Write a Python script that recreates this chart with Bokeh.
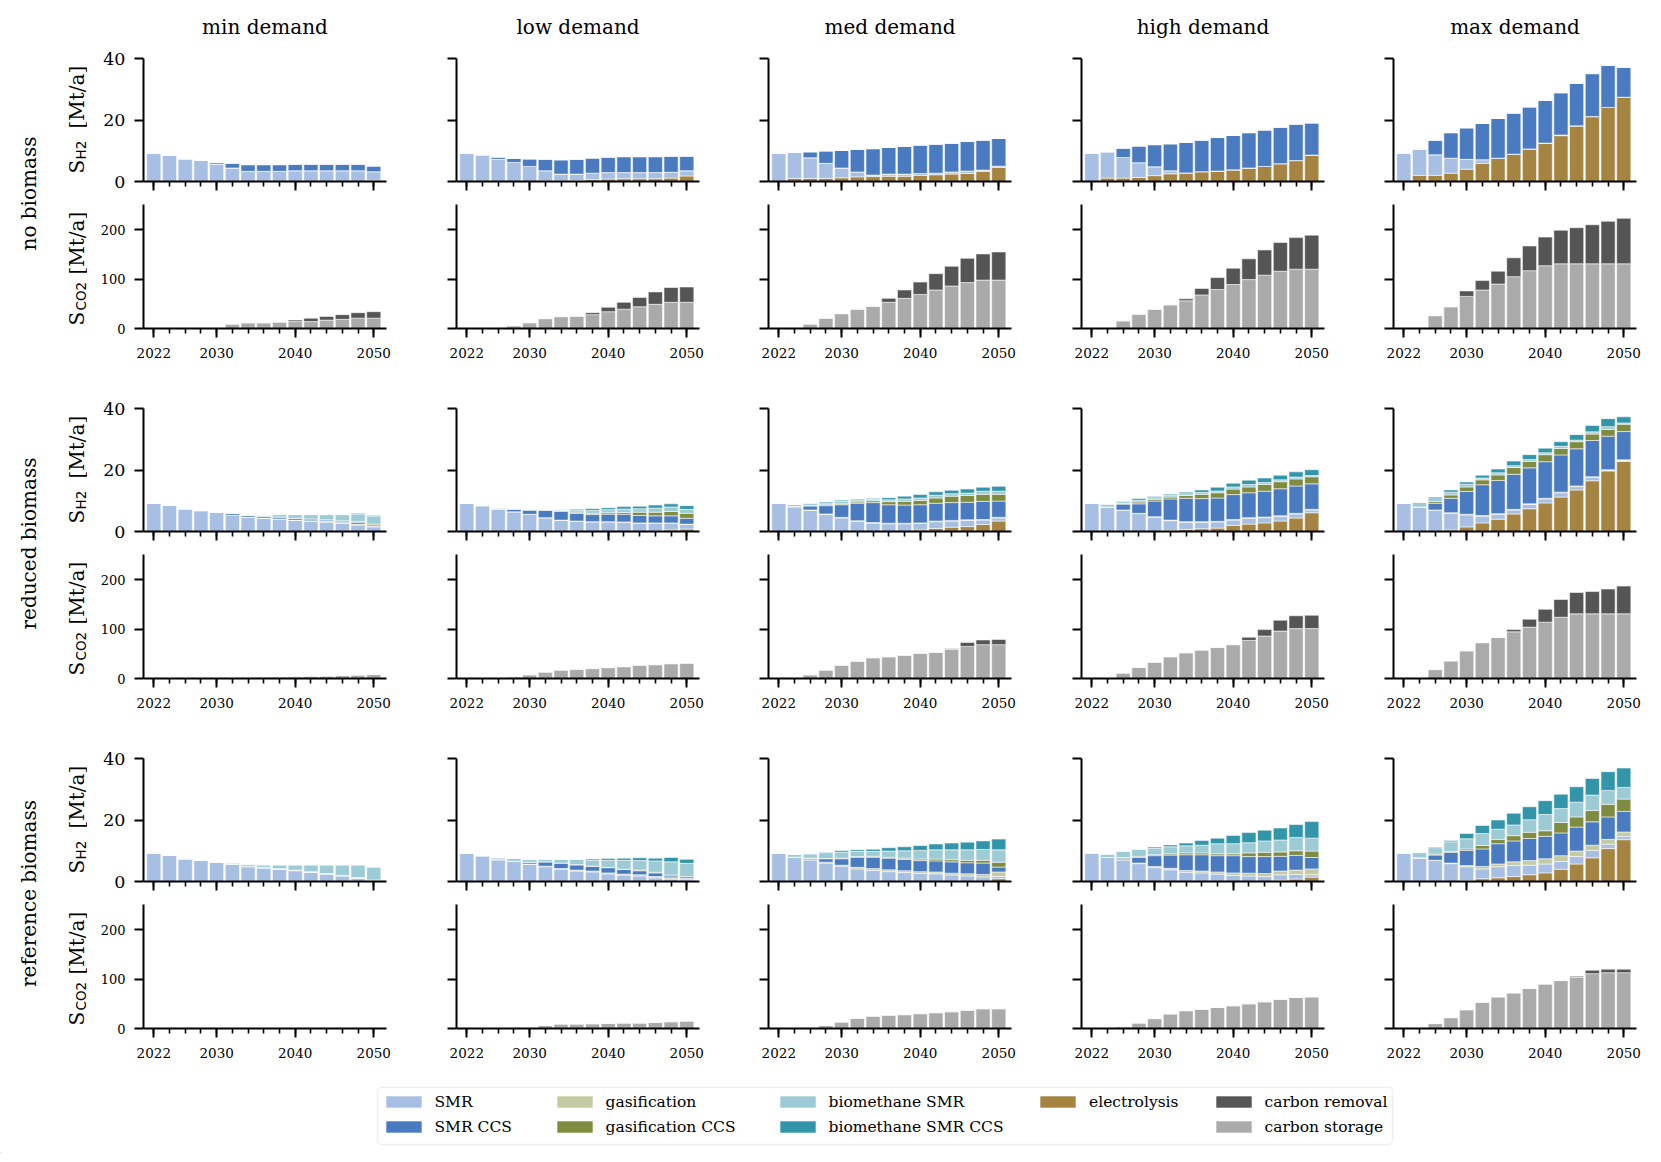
import numpy as np
from bokeh.plotting import figure
from bokeh.models import (ColumnDataSource, Range1d, FixedTicker, Label, Legend,
                          LegendItem, BoxAnnotation)
from bokeh.layouts import row, column
from bokeh.embed import file_html
from bokeh.resources import INLINE

# ---------------------------------------------------------------- data
YEARS = [2022, 2024, 2026, 2028, 2030, 2032, 2034, 2036, 2038, 2040, 2042, 2044, 2046, 2048, 2050]
BIOMASS = ["no", "reduced", "reference"]
COL_TITLES = ["min demand", "low demand", "med demand", "high demand", "max demand"]
ROW_TITLES = ["no biomass", "reduced biomass", "reference biomass"]

H2_KEYS = ["E", "S", "G", "SC", "GC", "B", "BC"]
CO2_KEYS = ["CS", "CR"]
NAMES = {"S": "SMR", "SC": "SMR CCS", "G": "gasification", "GC": "gasification CCS",
         "B": "biomethane SMR", "BC": "biomethane SMR CCS", "E": "electrolysis",
         "CR": "carbon removal", "CS": "carbon storage"}
COLORS = {"S": "#a7bfe2", "SC": "#4a7bc0", "G": "#c4caa3", "GC": "#7f8c40",
          "B": "#9ccbd6", "BC": "#3395a9", "E": "#a58442", "CR": "#555555", "CS": "#aaaaaa"}

# --- no biomass
no_min_h2 = dict(
    E=[0, 0, 0, 0, 0, 0, 0, 0, 0, 0, 0, 0, 0, 0, 0.4],
    S=[9.2, 8.5, 7.4, 6.9, 5.7, 4.4, 3.3, 3.3, 3.3, 3.5, 3.5, 3.5, 3.5, 3.5, 2.8],
    SC=[0, 0, 0, 0, 0.6, 1.6, 2.2, 2.2, 2.2, 2.2, 2.2, 2.2, 2.2, 2.2, 1.9])
no_min_co2 = dict(
    CS=[0, 0, 0, 0, 1, 9, 11.5, 11.5, 13, 14, 14, 17, 18.5, 21, 21],
    CR=[0, 0, 0, 0, 0, 0, 0, 0, 0, 3, 7, 7.5, 9.5, 11, 13])
no_low_h2 = dict(
    E=[0, 0, 0, 0, 0, 0.2, 0.2, 0.3, 0.6, 0.8, 0.9, 0.9, 0.9, 1.1, 1.8],
    S=[9.2, 8.7, 7.2, 6.2, 4.9, 3.3, 2.2, 2.1, 2.1, 2.1, 2.0, 2.0, 2.0, 1.9, 1.7],
    SC=[0, 0, 0.8, 1.4, 2.5, 3.8, 4.7, 4.9, 5.0, 5.1, 5.2, 5.2, 5.2, 5.3, 4.8])
no_low_co2 = dict(
    CS=[0, 0, 2, 5.5, 11.7, 20, 24, 25, 28, 34, 39, 44, 49, 53, 53],
    CR=[0, 0, 0, 0, 0, 0, 0, 0, 4, 9, 14, 19, 25, 30, 31])
no_med_h2 = dict(
    E=[0, 1.0, 1.0, 1.0, 1.2, 1.5, 1.6, 1.7, 1.7, 2.0, 2.2, 2.4, 2.6, 3.3, 4.6],
    S=[9.2, 8.6, 6.7, 4.9, 3.2, 1.6, 0.5, 0.7, 0.7, 0.6, 0.5, 0.7, 0.8, 0.4, 0.4],
    SC=[0, 0, 2.0, 4.1, 5.7, 7.4, 8.6, 8.7, 9.1, 9.3, 9.5, 9.4, 9.6, 9.8, 9.1])
no_med_co2 = dict(
    CS=[0, 0, 9, 21, 30, 39, 45, 53, 61, 69, 78, 86, 93, 98, 98],
    CR=[0, 0, 0, 0, 0, 0, 0, 8, 17, 25, 33, 40, 49, 53, 57])
no_high_h2 = dict(
    E=[0, 1.1, 1.1, 1.3, 1.9, 2.5, 2.8, 3.2, 3.4, 3.8, 4.4, 4.9, 5.8, 6.8, 8.6],
    S=[9.3, 8.6, 6.7, 4.8, 2.9, 1.0, 0, 0, 0, 0, 0, 0, 0, 0, 0],
    SC=[0, 0, 3.1, 5.5, 7.2, 8.8, 10.0, 10.3, 10.9, 11.2, 11.5, 11.9, 11.9, 11.9, 10.5])
no_high_co2 = dict(
    CS=[0, 0, 15.6, 29, 39, 48, 56, 68, 79, 89, 99, 108, 116, 120, 120],
    CR=[0, 0, 0, 0, 0, 0, 4, 13, 24, 33, 42, 51, 58, 64, 69])
no_max_h2 = dict(
    E=[0, 2.0, 2.0, 2.7, 4.0, 5.9, 7.6, 8.9, 10.6, 12.5, 14.9, 18.1, 21.1, 24.1, 27.4],
    S=[9.3, 8.6, 6.7, 4.9, 3.2, 1.2, 0, 0, 0, 0, 0.2, 0, 0, 0, 0],
    SC=[0, 0, 4.8, 8.3, 10.3, 11.8, 12.9, 13.4, 13.7, 13.9, 13.8, 13.9, 14.0, 13.7, 9.8])
no_max_co2 = dict(
    CS=[0, 0, 26, 44, 65, 78, 90, 105, 117, 127, 131, 131, 131, 131, 131],
    CR=[0, 0, 0, 0, 11, 19, 26, 38, 50, 58, 68, 73, 79, 86, 92])

# --- reduced biomass
red_min_h2 = dict(
    S=[9.1, 8.5, 7.4, 6.8, 6.2, 5.3, 4.6, 4.3, 4.0, 3.6, 3.3, 3.0, 2.6, 2.1, 1.5],
    G=[0, 0, 0, 0, 0, 0, 0.1, 0.1, 0.1, 0.1, 0.2, 0.3, 0.3, 0.3, 0.2],
    SC=[0, 0, 0, 0, 0, 0.6, 0.5, 0.6, 0.6, 0.6, 0.6, 0.5, 0.5, 0.6, 0.4],
    GC=[0, 0, 0, 0, 0, 0, 0, 0, 0, 0, 0, 0, 0.1, 0.3, 0.3],
    B=[0, 0, 0, 0, 0, 0, 0.1, 0.3, 0.8, 1.2, 1.4, 1.7, 2.0, 2.4, 2.5],
    BC=[0, 0, 0, 0, 0, 0, 0, 0, 0, 0, 0, 0, 0, 0.2, 0.3])
red_min_co2 = dict(
    CS=[0, 0, 0, 0, 0, 0.5, 2.5, 3, 3, 3.5, 4.5, 5, 6, 7, 8])
red_low_h2 = dict(
    E=[0, 0, 0, 0, 0, 0, 0, 0, 0, 0, 0, 0, 0.2, 0.5, 0.8],
    S=[9.2, 8.4, 7.3, 6.4, 5.6, 4.4, 3.6, 3.3, 3.1, 3.1, 3.0, 2.7, 2.5, 2.2, 1.5],
    G=[0, 0, 0, 0, 0, 0.1, 0.1, 0.1, 0.1, 0.1, 0.1, 0.1, 0.1, 0.1, 0.1],
    SC=[0, 0, 0.3, 0.9, 1.4, 2.4, 2.8, 2.5, 2.3, 2.4, 2.5, 2.4, 2.3, 2.3, 1.9],
    GC=[0, 0, 0, 0, 0, 0.1, 0.3, 0.4, 0.4, 0.5, 0.6, 1.1, 1.2, 1.4, 1.6],
    B=[0, 0.1, 0.1, 0.1, 0.2, 0.2, 0.2, 0.5, 0.9, 1.0, 1.1, 1.1, 1.3, 1.5, 1.3],
    BC=[0, 0, 0, 0, 0, 0, 0.1, 0.4, 0.6, 0.6, 0.8, 0.8, 1.0, 1.0, 1.2])
red_low_co2 = dict(
    CS=[0, 0, 0.3, 3.4, 7.5, 13, 17, 18.5, 20, 22, 24, 27, 28, 30, 31])
red_med_h2 = dict(
    E=[0, 0, 0, 0, 0, 0, 0, 0, 0, 0.5, 1.0, 1.4, 1.6, 2.3, 3.4],
    S=[9.2, 8.0, 6.9, 5.5, 4.4, 3.3, 2.7, 2.5, 2.5, 2.1, 2.2, 2.0, 2.0, 1.4, 1.0],
    G=[0, 0.1, 0.1, 0.2, 0.2, 0.2, 0.2, 0.2, 0.2, 0.2, 0.2, 0.2, 0.2, 0.2, 0.2],
    SC=[0, 0, 1.3, 2.7, 4.1, 5.7, 6.5, 6.0, 5.9, 5.9, 5.8, 5.8, 5.7, 5.9, 5.3],
    GC=[0, 0, 0.2, 0.3, 0.3, 0.4, 0.6, 1.0, 1.2, 1.4, 1.7, 2.1, 2.2, 2.3, 2.2],
    B=[0, 0.7, 0.6, 0.6, 0.8, 0.6, 0.4, 0.6, 0.8, 0.8, 0.9, 0.8, 0.8, 1.0, 1.0],
    BC=[0, 0, 0.1, 0.3, 0.4, 0.3, 0.3, 0.7, 0.9, 1.1, 1.1, 1.1, 1.3, 1.3, 1.6])
red_med_co2 = dict(
    CS=[0, 0, 7.5, 17, 27, 35, 42, 44, 47, 51, 53, 59, 65, 68.5, 68.5],
    CR=[0, 0, 0, 0, 0, 0, 0, 0, 0, 0, 0, 1, 8, 9.5, 10.5])
red_high_h2 = dict(
    E=[0, 0, 0, 0, 0, 0.4, 0.7, 0.9, 1.1, 2.0, 2.4, 2.8, 3.4, 4.4, 6.1],
    S=[9.2, 8.0, 7.0, 5.8, 4.6, 3.1, 2.3, 2.1, 2.0, 1.7, 1.9, 1.7, 1.5, 1.3, 0.9],
    G=[0, 0, 0, 0.1, 0.2, 0.2, 0.2, 0.2, 0.2, 0.2, 0.2, 0.2, 0.2, 0.2, 0.2],
    SC=[0, 0, 1.9, 3.1, 5.1, 6.9, 7.6, 7.5, 7.6, 8.1, 8.1, 8.4, 8.8, 8.9, 8.3],
    GC=[0, 0, 0.2, 0.6, 0.6, 0.6, 0.9, 1.4, 1.7, 1.8, 1.9, 2.2, 2.3, 2.3, 2.3],
    B=[0, 0.9, 0.6, 0.6, 0.5, 0.5, 0.6, 0.6, 0.6, 0.7, 0.8, 0.6, 0.6, 0.6, 0.4],
    BC=[0, 0, 0.1, 0.5, 0.4, 0.4, 0.5, 0.8, 1.2, 1.2, 1.4, 1.5, 1.5, 1.7, 1.9])
red_high_co2 = dict(
    CS=[0, 0, 11, 22.6, 33, 44, 52, 57.5, 63, 68.5, 77, 86, 96, 101, 101],
    CR=[0, 0, 0, 0, 0, 0, 0, 0, 0, 0, 6.5, 13, 22, 26, 27])
red_max_h2 = dict(
    E=[0, 0, 0, 0.5, 1.5, 2.8, 4.0, 5.7, 7.4, 9.3, 11.2, 13.5, 16.5, 19.7, 22.8],
    S=[9.2, 8.0, 7.0, 5.4, 3.9, 2.2, 1.6, 1.3, 1.4, 1.3, 1.4, 1.1, 1.1, 0.2, 0.3],
    G=[0, 0, 0, 0.2, 0.2, 0.2, 0.2, 0.2, 0.2, 0.2, 0.2, 0.2, 0.2, 0.2, 0.2],
    SC=[0, 0, 2.2, 4.7, 7.4, 10.0, 10.8, 11.4, 11.7, 11.9, 12.1, 12.1, 11.8, 10.9, 9.2],
    GC=[0, 0, 0.6, 1.1, 1.5, 1.6, 1.8, 2.2, 2.1, 2.3, 2.1, 2.3, 2.1, 2.2, 2.4],
    B=[0, 1.5, 1.6, 0.9, 0.9, 0.6, 0.7, 0.6, 0.6, 0.6, 0.7, 0.5, 0.7, 0.9, 0.4],
    BC=[0, 0, 0, 0.7, 0.7, 0.9, 1.2, 1.5, 1.6, 1.5, 1.5, 1.8, 2.1, 2.6, 2.0])
red_max_co2 = dict(
    CS=[0, 0, 18, 35.6, 56, 72.6, 83, 94.5, 104, 114, 124, 131, 131, 131, 131],
    CR=[0, 0, 0, 0, 0, 0, 0, 4.5, 16, 26, 36, 43, 45, 50, 56])

# --- reference biomass
ref_min_h2 = dict(
    S=[9.3, 8.5, 7.4, 6.9, 6.3, 5.6, 4.8, 4.4, 4.0, 3.5, 3.0, 2.4, 1.8, 1.0, 0.2],
    G=[0, 0, 0, 0, 0, 0, 0.1, 0.1, 0.1, 0.1, 0.1, 0.1, 0.1, 0.2, 0.2],
    GC=[0, 0, 0, 0, 0, 0, 0.1, 0.1, 0.1, 0.1, 0.1, 0.1, 0.1, 0.1, 0.1],
    B=[0, 0, 0, 0, 0, 0.4, 0.6, 0.8, 1.2, 1.7, 2.2, 2.8, 3.4, 4.1, 4.2])
ref_min_co2 = dict(
    CS=[0, 0, 0, 0, 0, 0, 0, 0, 0, 0, 0, 0, 0, 0, 0])
ref_low_h2 = dict(
    S=[9.2, 8.4, 7.1, 6.6, 5.6, 4.8, 4.0, 3.4, 3.1, 2.5, 2.1, 1.8, 1.2, 0.8, 0.5],
    G=[0, 0, 0, 0, 0.1, 0.2, 0.2, 0.3, 0.3, 0.3, 0.3, 0.4, 0.4, 0.4, 0.4],
    SC=[0, 0, 0, 0, 0.6, 1.4, 1.8, 1.7, 1.5, 1.7, 1.5, 1.3, 1.2, 0.6, 0.2],
    GC=[0, 0, 0, 0, 0, 0, 0, 0.1, 0.1, 0.1, 0.1, 0.2, 0.2, 0.3, 0.5],
    B=[0, 0, 0.6, 0.9, 0.9, 0.8, 1.2, 1.7, 1.9, 2.3, 2.9, 3.1, 3.7, 4.3, 4.3],
    BC=[0, 0, 0, 0, 0, 0, 0, 0, 0.4, 0.6, 0.7, 0.9, 0.9, 1.4, 1.3])
ref_low_co2 = dict(
    CS=[0, 0, 0, 0, 1, 6, 9, 9, 9.6, 10.3, 11, 11, 12.3, 13.7, 15])
ref_med_h2 = dict(
    E=[0, 0, 0, 0, 0, 0, 0, 0, 0, 0, 0, 0, 0, 0, 0.9],
    S=[9.2, 7.9, 7.0, 6.0, 5.0, 4.1, 3.6, 3.2, 2.9, 2.6, 2.5, 2.1, 1.8, 1.5, 0.7],
    G=[0, 0, 0.1, 0.3, 0.3, 0.5, 0.6, 0.6, 0.6, 0.6, 0.6, 0.6, 0.7, 0.8, 1.5],
    SC=[0, 0, 0.4, 1.1, 2.1, 3.3, 3.7, 3.8, 3.7, 3.6, 3.6, 3.7, 3.6, 3.7, 1.6],
    GC=[0, 0, 0.1, 0.1, 0.2, 0.2, 0.3, 0.3, 0.4, 0.5, 0.6, 0.7, 0.8, 0.9, 1.6],
    B=[0, 0.9, 1.4, 1.9, 2.0, 1.7, 1.6, 2.0, 2.4, 2.8, 3.0, 3.2, 3.4, 3.5, 4.0],
    BC=[0, 0, 0, 0.2, 0.5, 0.5, 0.7, 1.1, 1.3, 1.6, 1.9, 2.2, 2.5, 2.8, 3.5])
ref_med_co2 = dict(
    CS=[0, 0, 1.4, 6, 13, 20.5, 25, 27, 28, 30, 32, 34, 37, 40, 40])
ref_high_h2 = dict(
    E=[0, 0, 0, 0, 0, 0, 0, 0, 0, 0, 0, 0, 0.4, 0.8, 1.4],
    S=[9.3, 7.8, 7.0, 5.8, 4.5, 3.8, 3.0, 2.8, 2.4, 2.0, 1.8, 1.6, 1.8, 1.5, 0.8],
    G=[0, 0, 0.1, 0.2, 0.4, 0.5, 0.6, 0.6, 0.7, 0.8, 0.9, 1.0, 1.2, 1.4, 1.9],
    SC=[0, 0, 0.5, 1.8, 3.5, 4.3, 5.1, 5.3, 5.3, 5.6, 5.4, 5.5, 4.8, 4.8, 3.7],
    GC=[0, 0, 0.2, 0.4, 0.3, 0.4, 0.6, 0.6, 0.6, 0.6, 1.2, 1.4, 1.4, 1.5, 2.1],
    B=[0, 1.1, 2.0, 2.3, 2.1, 2.3, 2.3, 2.5, 3.3, 3.3, 3.3, 3.7, 3.9, 4.3, 4.2],
    BC=[0, 0, 0, 0, 0.4, 0.6, 0.9, 1.5, 1.8, 2.7, 3.3, 3.5, 3.9, 4.2, 5.4])
ref_high_co2 = dict(
    CS=[0, 0, 3.4, 11, 20, 29.5, 36, 39, 42.5, 46, 50, 54, 59, 63, 64])
ref_max_h2 = dict(
    E=[0, 0, 0, 0, 0.3, 0.9, 1.2, 1.6, 2.2, 2.8, 4.0, 5.7, 7.7, 10.7, 13.6],
    S=[9.3, 7.7, 6.8, 5.8, 4.5, 3.2, 3.6, 3.6, 3.1, 2.9, 2.5, 2.4, 2.4, 1.4, 1.0],
    G=[0, 0, 0.1, 0.2, 0.4, 0.8, 0.9, 1.2, 1.5, 1.7, 1.9, 1.8, 1.7, 1.6, 1.5],
    SC=[0, 0, 1.7, 3.5, 4.9, 5.7, 6.6, 6.8, 7.2, 7.3, 7.4, 7.8, 7.6, 7.3, 6.7],
    GC=[0, 0, 0.3, 0.3, 0.5, 1.1, 1.4, 1.7, 2.0, 1.8, 3.4, 3.3, 3.7, 4.1, 4.0],
    B=[0, 1.7, 2.1, 3.1, 3.3, 3.9, 3.3, 3.5, 4.1, 5.3, 4.5, 4.8, 5.0, 4.5, 3.8],
    BC=[0, 0, 0.2, 0.4, 1.7, 2.6, 3.0, 3.8, 4.2, 4.5, 4.7, 5.0, 5.4, 6.1, 6.3])
ref_max_co2 = dict(
    CS=[0, 0, 10, 22, 38, 53, 64, 72, 81, 90, 97, 104, 111, 113, 113],
    CR=[0, 0, 0, 0, 0, 0, 0, 0, 0, 0, 0, 2, 7, 7, 7])

H2_DATA = {
    "no": [no_min_h2, no_low_h2, no_med_h2, no_high_h2, no_max_h2],
    "reduced": [red_min_h2, red_low_h2, red_med_h2, red_high_h2, red_max_h2],
    "reference": [ref_min_h2, ref_low_h2, ref_med_h2, ref_high_h2, ref_max_h2],
}
CO2_DATA = {
    "no": [no_min_co2, no_low_co2, no_med_co2, no_high_co2, no_max_co2],
    "reduced": [red_min_co2, red_low_co2, red_med_co2, red_high_co2, red_max_co2],
    "reference": [ref_min_co2, ref_low_co2, ref_med_co2, ref_high_co2, ref_max_co2],
}

X_MAJOR = [2022, 2030, 2040, 2050]
H2_TICKS = [0, 20, 40]
CO2_TICKS = [0, 100, 200]

# ---------------------------------------------------------------- layout / style
SERIF = "DejaVu Serif"
SANS = "DejaVu Sans"
FRAME_W = 243
LEFT_BORDERS = [56, 40, 39, 40, 39]
RIGHT_BORDERS = [30, 30, 30, 30, 20]
RL_W = 87           # strip with row labels and y labels
HEAD_H = 46         # strip with column titles
TOP1 = 12           # top border of first panel row
TOTAL_W = RL_W + sum(LEFT_BORDERS) + 5 * FRAME_W + sum(RIGHT_BORDERS)
H2_FH, CO2_FH = 123, 124
GRID_H = TOP1 + (H2_FH + 23) + (CO2_FH + 40) + 2 * ((40 + H2_FH + 23) + (CO2_FH + 40))


def make_source(d, keys):
    data = {"year": YEARS}
    for k in keys:
        data[k] = d.get(k, [0] * len(YEARS))
    return ColumnDataSource(data)


def style_axes(p, ci, is_h2):
    p.xgrid.visible = False
    p.ygrid.visible = False
    p.outline_line_color = None
    for ax in (p.xaxis[0], p.yaxis[0]):
        ax.axis_line_width = 2
        ax.axis_line_color = "black"
        ax.major_tick_line_width = 2
        ax.major_tick_line_color = "black"
        ax.major_tick_in = 0
        ax.major_tick_out = 9
        ax.minor_tick_in = 0
        ax.major_label_text_font = SERIF
        ax.major_label_text_color = "black"
    xa = p.xaxis[0]
    xa.ticker = FixedTicker(ticks=X_MAJOR, minor_ticks=YEARS)
    xa.minor_tick_out = 5
    xa.minor_tick_line_width = 1.6
    xa.minor_tick_line_color = "black"
    xa.major_label_standoff = 10
    if is_h2:
        xa.major_label_text_font_size = "0px"
        xa.major_label_text_alpha = 0
    else:
        xa.major_label_text_font_size = "13.5px"
    ya = p.yaxis[0]
    ya.ticker = FixedTicker(ticks=H2_TICKS if is_h2 else CO2_TICKS, minor_ticks=[])
    ya.minor_tick_out = 0
    ya.major_label_standoff = 9
    if ci == 0:
        ya.major_label_text_font_size = "17.5px" if is_h2 else "13px"
    else:
        ya.major_label_text_font_size = "0px"
        ya.major_label_text_alpha = 0


def make_panel(ri, ci, is_h2):
    bio = BIOMASS[ri]
    if is_h2:
        fh, top, bottom = H2_FH, (TOP1 if ri == 0 else 40), 23
    else:
        fh, top, bottom = CO2_FH, 0, 40
    p = figure(frame_width=FRAME_W, frame_height=fh,
               min_border_left=LEFT_BORDERS[ci], min_border_right=RIGHT_BORDERS[ci],
               min_border_top=top, min_border_bottom=bottom,
               x_range=Range1d(2020.69, 2051.62),
               y_range=Range1d(0, 40) if is_h2 else Range1d(0, 251),
               output_backend="svg", toolbar_location=None, tools="",
               background_fill_color="white", border_fill_color="white")
    keys = H2_KEYS if is_h2 else CO2_KEYS
    d = H2_DATA[bio][ci] if is_h2 else CO2_DATA[bio][ci]
    src = make_source(d, keys)
    p.vbar_stack(keys, x="year", width=1.8, source=src,
                 fill_color=[COLORS[k] for k in keys],
                 line_color="white", line_alpha=0.55, line_width=1)
    style_axes(p, ci, is_h2)
    return p


def blank_fig(w, h):
    f = figure(frame_width=w, frame_height=h, min_border=0,
               x_range=Range1d(0, w), y_range=Range1d(0, h),
               x_axis_location=None, y_axis_location=None,
               output_backend="svg", toolbar_location=None, tools="")
    f.outline_line_color = None
    f.xgrid.visible = False
    f.ygrid.visible = False
    return f


columns = []
frame_lefts = []
xpos = RL_W
for ci in range(5):
    frame_lefts.append(xpos + LEFT_BORDERS[ci])
    xpos += LEFT_BORDERS[ci] + FRAME_W + RIGHT_BORDERS[ci]
    figs = []
    for ri in range(3):
        figs.append(make_panel(ri, ci, True))
        figs.append(make_panel(ri, ci, False))
    columns.append(column(*figs, spacing=0))

# --- header with column titles
head = blank_fig(TOTAL_W, HEAD_H)
for ci, t in enumerate(COL_TITLES):
    head.add_layout(Label(x=frame_lefts[ci] + FRAME_W / 2, y=HEAD_H - 26.7, text=t,
                          text_align="center", text_baseline="middle",
                          text_font=SERIF, text_font_size="20px", text_color="black"))

# --- left strip: row labels and y-axis labels (with subscripts)
rl = blank_fig(RL_W, GRID_H)
for g, txt in enumerate(ROW_TITLES):
    h2_bottom = GRID_H - (TOP1 + H2_FH + 350 * g)   # frame bottom of H2 panel
    co2_bottom = h2_bottom - 23 - CO2_FH             # frame bottom of CO2 panel
    rl.add_layout(Label(x=28, y=(h2_bottom + H2_FH + co2_bottom) / 2, text=txt,
                        angle=np.pi / 2, text_align="center", text_baseline="middle",
                        text_font=SERIF, text_font_size="20px", text_color="black"))
    for base, sub, offs in ((h2_bottom, "H2", (8, 22, 53)), (co2_bottom, "CO2", (3, 18, 54))):
        common = dict(angle=np.pi / 2, text_align="left", text_baseline="middle",
                      text_color="black")
        rl.add_layout(Label(x=76, y=base + offs[0], text="S", text_font=SERIF,
                            text_font_size="20px", **common))
        rl.add_layout(Label(x=80, y=base + offs[1], text=sub, text_font=SANS,
                            text_font_size="13.5px", **common))
        rl.add_layout(Label(x=76, y=base + offs[2], text="[Mt/a]", text_font=SERIF,
                            text_font_size="20px", **common))

# ---------------------------------------------------------------- legend
LH = 85
lf = blank_fig(TOTAL_W, LH)
lf.add_layout(BoxAnnotation(left=377, right=1392, bottom=9, top=66.3,
                            fill_color=None, fill_alpha=0, line_color="#cccccc",
                            line_width=1.5, border_radius=4))
groups = [["S", "SC"], ["G", "GC"], ["B", "BC"], ["E"], ["CR", "CS"]]
patch_left = [385, 556, 779, 1039.5, 1215]
for keys, x0 in zip(groups, patch_left):
    items = []
    for k in keys:
        r = lf.vbar(x=[-1000], top=[1], width=1, fill_color=COLORS[k],
                    line_color="white", line_alpha=0.6)
        items.append(LegendItem(label=NAMES[k], renderers=[r]))
    h = 20 * len(keys) + 5 * (len(keys) - 1)
    leg = Legend(items=items, location=(x0 - 4.5, 61.5 - h), padding=0, spacing=5, margin=0,
                 glyph_width=45, glyph_height=15, label_height=20, label_standoff=9,
                 label_text_font=SERIF, label_text_font_size="15.5px",
                 label_text_color="black",
                 border_line_color=None, background_fill_alpha=0)
    lf.add_layout(leg)

layout = column(head, row(rl, *columns, spacing=0), lf, spacing=0)

open("out.html", "w").write(file_html(layout, INLINE))
